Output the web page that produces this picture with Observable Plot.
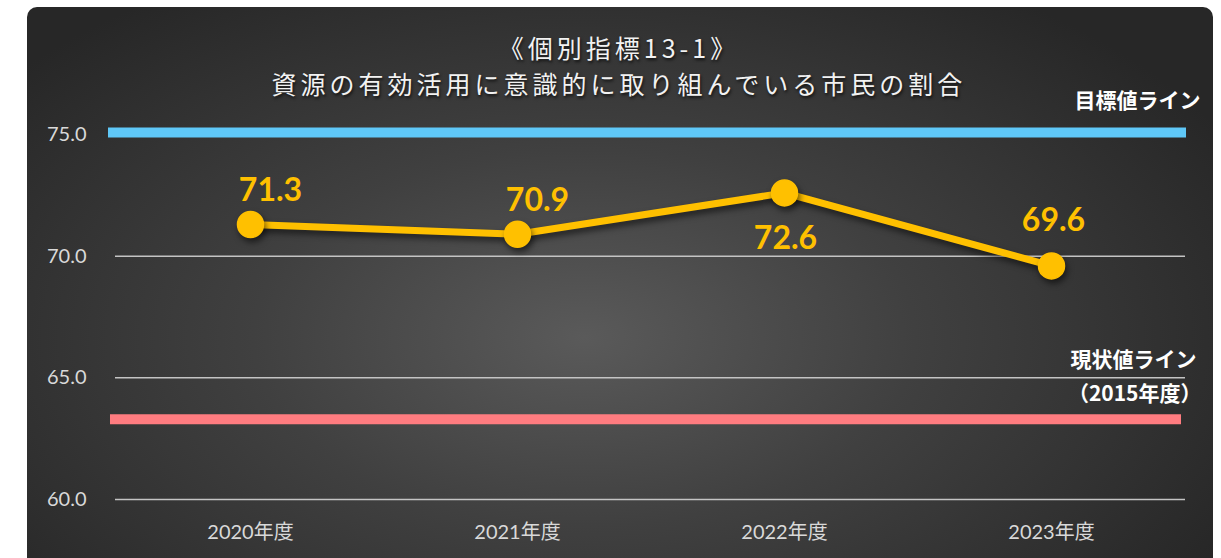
<!DOCTYPE html>
<html>
<head>
<meta charset="utf-8">
<script src="https://cdn.jsdelivr.net/npm/d3@7"></script>
<script src="https://cdn.jsdelivr.net/npm/@observablehq/plot@0.6"></script>
<style>
  html, body { margin: 0; padding: 0; background: #ffffff; }
  #wrap { position: relative; width: 1221px; height: 558px; overflow: hidden; }
  #panel {
    position: absolute; left: 27px; top: 7px; width: 1186px; height: 580px;
    border-radius: 10px;
    background: radial-gradient(ellipse 62% 72% at 47% 57%, #5a5a5a 0%, #404040 45%, #272727 100%);
  }
  #title {
    position: absolute; left: 0; top: 29px; width: 1238px; text-align: center;
    font-family: "Noto Sans CJK JP", sans-serif; font-size: 25px; line-height: 36px;
    color: #f2f2f2; letter-spacing: 4px;
    text-shadow: 1px 2px 3px rgba(0,0,0,0.7);
  }
  #chart { position: absolute; left: 0; top: 0; }
</style>
</head>
<body>
<div id="wrap">
  <div id="panel"></div>
  <div id="title"><div>《個別指標13-1》</div><div>資源の有効活用に意識的に取り組んでいる市民の割合</div></div>
  <div id="chart"></div>
</div>
<script>
const years = ["2020年度", "2021年度", "2022年度", "2023年度"];
const values = [71.3, 70.9, 72.6, 69.6];
const labelPlacement = ["above", "above", "below", "above"];
const targetValue = 75.0;
const baselineValue = 63.3;
const yTicks = [60, 65, 70, 75];
const gridValues = [60, 65, 70];
const targetLabel = "目標値ライン";
const baselineLabel1 = "現状値ライン";
const baselineLabel2 = "（2015年度）";

const data = years.map((y, i) => ({year: y, value: values[i], place: labelPlacement[i]}));

const font = "Lato, 'Noto Sans CJK JP', sans-serif";

const plot = Plot.plot({
  width: 1221,
  height: 558,
  marginLeft: 115,
  marginRight: 36,
  marginTop: 134,
  marginBottom: 59,
  style: {background: "transparent", color: "#d9d9d9", fontFamily: font, overflow: "visible"},
  x: {type: "point", domain: years, padding: 0.5},
  y: {domain: [60, 75]},
  marks: [
    Plot.ruleY(gridValues, {stroke: "#c4c4c4", strokeWidth: 1.5}),
    Plot.ruleY([targetValue], {stroke: "#5fc8f8", strokeWidth: 10, insetLeft: -7, insetRight: -1, dy: -2}),
    Plot.ruleY([baselineValue], {stroke: "#ff7c80", strokeWidth: 10, insetLeft: -5, insetRight: 4}),
    Plot.axisY({ticks: yTicks, tickFormat: d => d.toFixed(1), tickSize: 0, tickPadding: 29, fontSize: 20, label: null, fill: "#d9d9d9"}),
    Plot.axisX({tickSize: 0, tickPadding: 25, fontSize: 20, label: null, fill: "#d9d9d9"}),
    Plot.line(data, {x: "year", y: "value", stroke: "#ffc000", strokeWidth: 7}),
    Plot.dot(data, {x: "year", y: "value", r: 13, fill: "#ffc000", stroke: "#ffc000"}),
    Plot.text(data.filter(d => d.place === "above" && d.year !== "2023年度"), {x: "year", y: "value", text: d => d.value.toFixed(1), fill: "#ffc000", fontSize: 32, fontWeight: "bold", dx: 20, dy: -34}),
    Plot.text(data.filter(d => d.year === "2023年度"), {x: "year", y: "value", text: d => d.value.toFixed(1), fill: "#ffc000", fontSize: 32, fontWeight: "bold", dx: 2, dy: -45}),
    Plot.text(data.filter(d => d.place === "below"), {x: "year", y: "value", text: d => d.value.toFixed(1), fill: "#ffc000", fontSize: 32, fontWeight: "bold", dx: 1, dy: 46}),
    Plot.text([targetValue], {y: d => d, text: () => targetLabel, frameAnchor: "right", textAnchor: "end", dx: 15, dy: -33, fill: "#ffffff", fontSize: 21, fontWeight: "bold", fontFamily: "'Noto Sans CJK JP', sans-serif"}),
    Plot.text([baselineValue], {y: d => d, text: () => baselineLabel1, frameAnchor: "right", textAnchor: "end", dx: 11, dy: -59, fill: "#ffffff", fontSize: 21, fontWeight: "bold", fontFamily: "'Noto Sans CJK JP', sans-serif"}),
    Plot.text([baselineValue], {y: d => d, text: () => baselineLabel2, frameAnchor: "right", textAnchor: "end", dx: 16, dy: -25, fill: "#ffffff", fontSize: 21, fontWeight: "bold", fontFamily: "'Noto Sans CJK JP', sans-serif"})
  ]
});
document.getElementById("chart").appendChild(plot);
plot.querySelectorAll('g[aria-label="line"], g[aria-label="dot"]').forEach(g => {
  g.style.filter = "drop-shadow(2px 4px 3px rgba(0,0,0,0.55))";
});
</script>
</body>
</html>
